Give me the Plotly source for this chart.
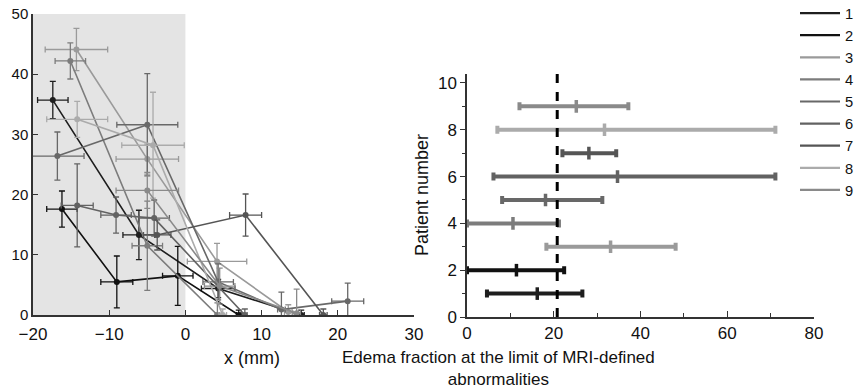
import plotly.graph_objects as go

# page body has an 8px margin: figure pixels = screen pixels - OFF
OFF = 8
W, H = 863 - OFF, 389 - OFF

# ---------------- Left panel data (x in mm, y value, symmetric errors) ----------------
p1_x = [-17.4, -6.1, 4.3, 15.2];  p1_y = [35.7, 13.3, 4.4, 0.0]
p1_ex = [2.0, 2.1, 2.2, 0.4];     p1_ey = [3.1, 4.1, 1.5, 0.8]

p2_x = [-16.2, -9.0, -1.0, 7.0];  p2_y = [17.6, 5.5, 6.5, 0.0]
p2_ex = [2.0, 2.1, 2.0, 0.3];     p2_ey = [3.0, 4.3, 4.9, 0.8]

p3_x = [-14.3, -5.0, 4.15, 13.5]; p3_y = [44.1, 25.9, 8.9, 0.5]
p3_ex = [4.1, 4.1, 3.9, 0.5];     p3_ey = [3.5, 2.5, 3.0, 1.2]

p4_x = [-15.1, -5.0, 4.2];        p4_y = [42.2, 11.5, 0.0]
p4_ex = [2.0, 2.0, 0.3];          p4_ey = [3.0, 7.4, 2.0]

p5_x = [-16.8, -5.0, 4.3, 12.6, 21.3]; p5_y = [26.4, 31.6, 5.5, 0.9, 2.3]
p5_ex = [3.5, 4.0, 2.0, 0.5, 2.1];     p5_ey = [4.0, 8.5, 3.0, 2.9, 3.0]

p6_x = [-14.2, -9.1, -4.1, 7.8];  p6_y = [18.2, 16.6, 16.1, 0.0]
p6_ex = [2.1, 2.0, 2.0, 0.3];     p6_ey = [6.9, 3.0, 3.0, 1.0]

p7_x = [-3.7, 7.9, 18.1];         p7_y = [13.3, 16.6, 0.0]
p7_ex = [1.8, 2.1, 0.5];          p7_ey = [2.5, 3.5, 1.0]

p8_x = [-14.2, -4.25, 4.9];       p8_y = [32.5, 28.2, 0.0]
p8_ex = [4.0, 4.1, 0.5];          p8_ey = [3.0, 8.8, 1.0]

p9_x = [-5.0, 4.5, 14.6];         p9_y = [20.7, 4.8, 0.3]
p9_ex = [4.1, 2.0, 0.5];          p9_ey = [3.0, 3.0, 4.0]

left_x = [p1_x, p2_x, p3_x, p4_x, p5_x, p6_x, p7_x, p8_x, p9_x]
left_y = [p1_y, p2_y, p3_y, p4_y, p5_y, p6_y, p7_y, p8_y, p9_y]
left_ex = [p1_ex, p2_ex, p3_ex, p4_ex, p5_ex, p6_ex, p7_ex, p8_ex, p9_ex]
left_ey = [p1_ey, p2_ey, p3_ey, p4_ey, p5_ey, p6_ey, p7_ey, p8_ey, p9_ey]

shade_x = [-20, 0]
left_xticks = [-20, -10, 0, 10, 20, 30]
left_xticktext = ["\u221220", "\u221210", "0", "10", "20", "30"]
left_yticks = [0, 10, 20, 30, 40, 50]

# ---------------- Right panel data ----------------
patients = [1, 2, 3, 4, 5, 6, 7, 8, 9]
edema_center = [16.2, 11.4, 33.1, 10.6, 18.1, 34.7, 28.1, 31.7, 25.2]
edema_low = [4.6, 0.0, 18.3, 0.0, 8.1, 6.1, 22.0, 7.0, 12.1]
edema_high = [26.6, 22.4, 48.1, 21.2, 31.2, 71.1, 34.4, 71.1, 37.2]
threshold = 20.8
right_xticks = [0, 20, 40, 60, 80]
right_yticks = [0, 2, 4, 6, 8, 10]

# ---------------- styles ----------------
colors = ["#1e1e1e", "#111111", "#9a9a9a", "#7c7c7c", "#686868",
          "#626262", "#555555", "#ababab", "#8a8a8a"]
FONT = "Liberation Sans, Arial, Helvetica, sans-serif"
AX = "#333333"


def px(x):  # screen x pixel -> paper fraction
    return (x - OFF) / W


def py(y):  # screen y pixel -> paper fraction
    return 1 - (y - OFF) / H


fig = go.Figure()

# shaded region on the left panel
fig.add_shape(type="rect", xref="x", yref="y", x0=shade_x[0], x1=shade_x[1],
              y0=left_yticks[0], y1=left_yticks[-1],
              fillcolor="#e4e4e4", line_width=0, layer="below")

for i in range(9):
    fig.add_trace(go.Scatter(
        x=left_x[i], y=left_y[i], mode="lines+markers",
        line=dict(color=colors[i], width=1.6),
        marker=dict(color=colors[i], size=6),
        error_x=dict(type="data", array=left_ex[i], color=colors[i], thickness=1.3, width=3),
        error_y=dict(type="data", array=left_ey[i], color=colors[i], thickness=1.3, width=3),
        xaxis="x", yaxis="y", showlegend=False, hoverinfo="skip"))

for i in range(9):
    fig.add_trace(go.Scatter(
        x=[edema_center[i]], y=[patients[i]], mode="markers",
        marker=dict(symbol="line-ns", size=9, line=dict(color=colors[i], width=3.5)),
        error_x=dict(type="data", symmetric=False,
                     array=[edema_high[i] - edema_center[i]],
                     arrayminus=[edema_center[i] - edema_low[i]],
                     color=colors[i], thickness=4, width=4),
        xaxis="x2", yaxis="y2", showlegend=False, hoverinfo="skip"))

# legend entries (line samples)
for i in range(9):
    fig.add_trace(go.Scatter(
        x=[None], y=[None], mode="lines", name=str(patients[i]),
        line=dict(color=colors[i], width=2.2), xaxis="x2", yaxis="y2"))

fig.add_shape(type="line", xref="x2", yref="y2", x0=threshold, x1=threshold,
              y0=0, y1=10.4, line=dict(color="#000000", width=3, dash="dash"))

axis_common = dict(showline=True, linecolor=AX, linewidth=1.5, showgrid=False,
                   zeroline=False, tickcolor=AX, automargin=False)
tick17 = dict(size=17, color="#111")

fig.update_layout(
    width=W, height=H, margin=dict(l=0, r=0, t=0, b=0, autoexpand=False),
    paper_bgcolor="white", plot_bgcolor="white",
    font=dict(family=FONT, color="#111"),
    xaxis=dict(domain=[px(33), px(414)], range=[-20, 30], anchor="y",
               tickvals=left_xticks, ticktext=left_xticktext, tickfont=tick17,
               ticks="inside", ticklen=5, ticklabelstandoff=3, **axis_common),
    yaxis=dict(domain=[py(315), py(14)], range=[0, 50], anchor="x",
               tickvals=left_yticks, ticks="inside", ticklen=5, ticklabeloverflow="allow",
               tickfont=dict(size=15, color="#111"), **axis_common),
    xaxis2=dict(domain=[px(467), px(814)], range=[0, 80], anchor="y2",
                tickvals=right_xticks, ticks="inside", ticklen=6, tickfont=tick17,
                minor=dict(dtick=10, ticks="inside", ticklen=4, tickcolor=AX),
                **axis_common),
    yaxis2=dict(domain=[py(317), py(73.6)], range=[0, 10.4], anchor="x2",
                tickvals=right_yticks, ticks="outside", ticklen=5, tickfont=tick17,
                minor=dict(tickvals=[1, 3, 5, 7, 9], ticks="outside", ticklen=3, tickcolor=AX),
                **axis_common),
    legend=dict(x=px(795), y=py(206), xanchor="left", yanchor="bottom",
                font=dict(size=14.7, color="#111"), bgcolor="rgba(0,0,0,0)",
                itemwidth=40, tracegroupgap=0),
    annotations=[
        dict(text="x (mm)", x=px(222), y=py(358), xref="paper", yref="paper",
             showarrow=False, font=dict(size=18, color="#111"), yanchor="middle"),
        dict(text="Edema fraction at the limit of MRI-defined<br>abnormalities",
             x=px(657), y=py(368), xref="paper", yref="paper",
             showarrow=False, font=dict(size=17, color="#111"), yanchor="middle"),
        dict(text="Patient number", x=px(422), y=py(195), xref="paper", yref="paper",
             showarrow=False, textangle=-90, font=dict(size=18, color="#111")),
    ],
)

fig.write_html("out.html")
